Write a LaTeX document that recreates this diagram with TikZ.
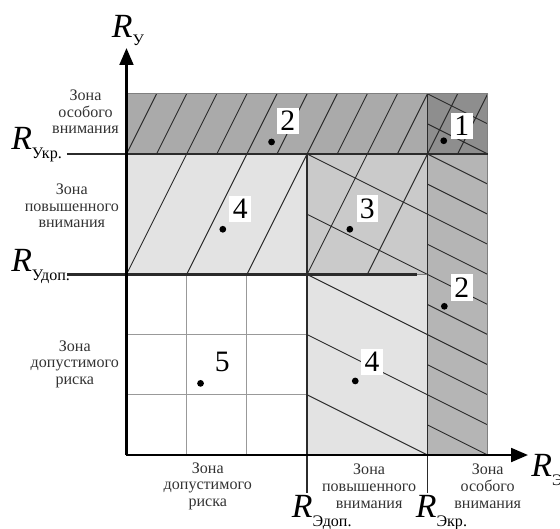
\documentclass[tikz,border=0pt]{standalone}
\usepackage{fontspec}
\setmainfont{Liberation Serif}
\usetikzlibrary{arrows.meta}
\definecolor{gcorner}{HTML}{8E8E8E}
\definecolor{gband}{HTML}{AAAAAA}
\definecolor{gcol}{HTML}{B5B5B5}
\definecolor{gthree}{HTML}{CACACA}
\definecolor{gfour}{HTML}{E3E3E3}
\definecolor{inkc}{HTML}{2B2B2B}
\newcommand{\rsub}[1]{\textit{R}\raisebox{-0.55ex}{\fontsize{7.6}{7.6}\selectfont #1}}
\begin{document}
\begin{tikzpicture}[x=1cm,y=1cm,
  hatch/.style={draw=inkc, line width=0.45pt},
  gridline/.style={draw=black!40, line width=0.45pt},
  border/.style={draw=inkc, line width=0.9pt},
  edge/.style={draw=black!50, line width=0.5pt},
  axis/.style={draw=black, line width=1.2pt, -{Triangle[length=8pt,width=6.5pt]}},
  level/.style={draw=inkc, line width=1.1pt},
  zonetxt/.style={font=\fontsize{7.6}{7.9}\selectfont, align=center, text=black!80, inner sep=0pt},
  numlbl/.style={fill=white, inner sep=1.6pt, font=\fontsize{14}{14}\selectfont},
  dotpt/.style={circle, fill=black, inner sep=0pt, minimum size=3.2pt},
  rlbl/.style={font=\fontsize{16}{16}\selectfont, inner sep=0pt, anchor=base west},
]
\useasboundingbox (-2.101,-1.2126) rectangle (7.201,7.558);
% fills
\fill[gband] (0,5) rectangle (6,6);
\fill[gcorner] (5,5) rectangle (6,6);
\fill[gcol] (5,0) rectangle (6,5);
\fill[gthree] (3,3) rectangle (5,5);
\fill[gfour] (0,3) rectangle (3,5);
\fill[gfour] (3,0) rectangle (5,3);
% grid of the admissible zone
\draw[gridline] (1,0) -- (1,3) (2,0) -- (2,3) (0,1) -- (3,1) (0,2) -- (3,2);
% hatching
\foreach \k in {0,...,9} \draw[hatch] ({0.5*\k},5) -- ({0.5*\k+0.5},6);
\draw[hatch] (5,5) -- (5.5,6) (5.5,5) -- (6,6) (5,6) -- (6,5.5) (5,5.5) -- (6,5);
\foreach \k in {0,1,2} \draw[hatch] (\k,3) -- (\k+1,5);
\draw[hatch] (3,3) -- (4,5) (4,3) -- (5,5) (3,5) -- (5,4) (3,4) -- (5,3);
\draw[hatch] (3,3) -- (5,2) (3,2) -- (5,1) (3,1) -- (5,0);
\foreach \k in {1,...,10} \draw[hatch] (5,{0.5*\k}) -- (6,{0.5*\k-0.5});
% outer edges
\draw[edge] (0,6) -- (6,6) -- (6,0);
\draw[edge] (4.8,3) -- (5,3);
% level lines
\coordinate (ukrL) at (-0.99,5);
\coordinate (ukrR) at (6,5);
\coordinate (udopL) at (-0.99,3);
\coordinate (udopR) at (4.82,3);
\draw[level] (ukrL) -- (ukrR);
\draw[level] (udopL) -- (udopR);
% vertical borders
\coordinate (edopT) at (3,5);
\coordinate (edopB) at (3,-0.63);
\coordinate (ekrT) at (5,6);
\coordinate (ekrB) at (5,-0.63);
\draw[border] (edopT) -- (edopB);
\draw[border] (ekrT) -- (ekrB);
% axes
\coordinate (O) at (0,0);
\coordinate (ytip) at (0,6.76);
\coordinate (xtip) at (6.67,0);
\draw[axis] (O) -- (ytip);
\draw[axis] (O) -- (xtip);
% axis labels
\node[rlbl] (ry) at (-0.25,6.94) {\rsub{У}};
\node[rlbl] (rukr) at (-1.92,5.07) {\rsub{Укр.}};
\node[rlbl] (rudop) at (-1.92,3.04) {\rsub{Удоп.}};
\node[rlbl] (redop) at (2.74,-1.04) {\rsub{Эдоп.}};
\node[rlbl] (rekr) at (4.80,-1.04) {\rsub{Экр.}};
\node[rlbl] (re) at (6.72,-0.36) {\rsub{Э}};
% zone texts
\node[zonetxt, anchor=east] (zl1) at (-0.12,5.70) {Зона\\особого\\внимания};
\node[zonetxt, anchor=east] (zl2) at (-0.12,4.14) {Зона\\повышенного\\внимания};
\node[zonetxt, anchor=east] (zl3) at (-0.12,1.51) {Зона\\допустимого\\риска};
\node[zonetxt] (zb1) at (1.35,-0.52) {Зона\\допустимого\\риска};
\node[zonetxt] (zb2) at (4.03,-0.52) {Зона\\повышенного\\внимания};
\node[zonetxt] (zb3) at (6.0,-0.52) {Зона\\особого\\внимания};
% points and numbers
\node[dotpt] (p2a) at (2.41,5.20) {};
\node[numlbl] (n2a) at (2.68,5.55) {2};
\node[dotpt] (p1) at (5.27,5.22) {};
\node[numlbl] (n1) at (5.57,5.47) {1};
\node[dotpt] (p4a) at (1.60,3.75) {};
\node[numlbl] (n4a) at (1.89,4.09) {4};
\node[dotpt] (p3) at (3.71,3.75) {};
\node[numlbl] (n3) at (4.00,4.09) {3};
\node[dotpt] (p2b) at (5.28,2.47) {};
\node[numlbl] (n2b) at (5.57,2.78) {2};
\node[dotpt] (p5) at (1.23,1.19) {};
\node[numlbl] (n5) at (1.59,1.55) {5};
\node[dotpt] (p4b) at (3.80,1.23) {};
\node[numlbl] (n4b) at (4.08,1.55) {4};
\end{tikzpicture}
\end{document}
